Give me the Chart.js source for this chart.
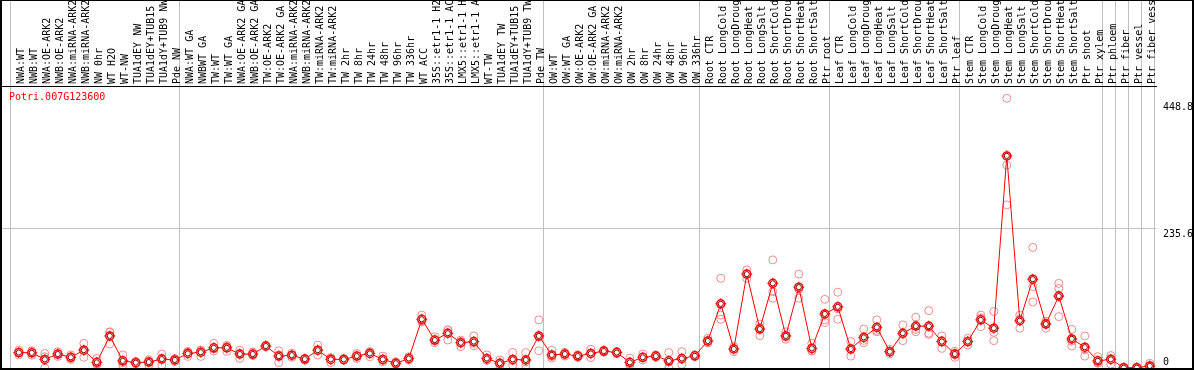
<!DOCTYPE html>
<html>
<head>
<meta charset="utf-8">
<script src="https://cdn.jsdelivr.net/npm/chart.js@4"></script>
<style>
    html, body { margin: 0; padding: 0; background: #fff; }
    #frame {
        position: relative; width: 1194px; height: 370px; box-sizing: border-box;
        border-style: solid; border-color: #000; border-width: 1px 2px 2px 2px;
    }
    #chart { display: block; }
    #gene {
        position: absolute; left: 7px; top: 91px; color: #f00;
        font: 10px "DejaVu Sans Mono", monospace; line-height: 10px;
    }
</style>
</head>
<body>
<div id="frame">
    <canvas id="chart" width="1190" height="367"></canvas>
    <div id="gene">Potri.007G123600</div>
</div>
<script>
const categories = [
    'NWA:WT', 'NWB:WT', 'NWA:OE-ARK2', 'NWB:OE-ARK2', 'NWA:miRNA-ARK2', 'NWB:miRNA-ARK2', 'NW 0hr',
    'WT H2O', 'WT-NW', 'TUA1dEY NW', 'TUA1dEY+TUB15 NW', 'TUA1dY+TUB9 NW', 'Pde NW',
    'NWA:WT GA', 'NWBWT GA', 'TW:WT', 'TW:WT GA', 'NWA:OE-ARK2 GA', 'NWB:OE-ARK2 GA', 'TW:OE-ARK2',
    'TW:OE-ARK2 GA', 'NWA:miRNA-ARK2', 'NWB:miRNA-ARK2', 'TW:miRNA-ARK2', 'TW:miRNA-ARK2',
    'TW 2hr', 'TW 8hr', 'TW 24hr', 'TW 48hr', 'TW 96hr', 'TW 336hr', 'WT ACC',
    '35S::etr1-1 H2O', '35S::etr1-1 ACC', 'LMX5::etr1-1 H2O', 'LMX5::etr1-1 ACC', 'WT-TW',
    'TUA1dEY TW', 'TUA1dEY+TUB15 TW', 'TUA1dY+TUB9 TW', 'Pde TW',
    'OW:WT', 'OW:WT GA', 'OW:OE-ARK2', 'OW:OE-ARK2 GA', 'OW:miRNA-ARK2', 'OW:miRNA-ARK2',
    'OW 2hr', 'OW 8hr', 'OW 24hr', 'OW 48hr', 'OW 96hr', 'OW 336hr',
    'Root CTR', 'Root LongCold', 'Root LongDrought', 'Root LongHeat', 'Root LongSalt',
    'Root ShortCold', 'Root ShortDrought', 'Root ShortHeat', 'Root ShortSalt', 'Ptr root',
    'Leaf CTR', 'Leaf LongCold', 'Leaf LongDrought', 'Leaf LongHeat', 'Leaf LongSalt',
    'Leaf ShortCold', 'Leaf ShortDrought', 'Leaf ShortHeat', 'Leaf ShortSalt', 'Ptr leaf',
    'Stem CTR', 'Stem LongCold', 'Stem LongDrought', 'Stem LongHeat', 'Stem LongSalt',
    'Stem ShortCold', 'Stem ShortDrought', 'Stem ShortHeat', 'Stem ShortSalt', 'Ptr shoot', 'Ptr xylem',
    'Ptr phloem', 'Ptr fiber', 'Ptr vessel', 'Ptr fiber vessel'
];
// samples per group, a grey rule separates groups
const groupSizes = [13, 28, 12, 10, 10, 11, 1, 1, 1, 1];

const meanValues = [
    26, 25.5, 14.5, 23.5, 18, 30, 9.5, 54, 12, 9, 10, 15, 13.5,
    24.5, 26.5, 34, 34, 23.5, 23.5, 37, 20, 21.5, 15, 30, 14.5, 14.5, 20, 24.5, 14.5, 8, 16,
    82, 47, 58.5, 42.5, 44.5, 16, 8, 14.5, 13.5, 54,
    22, 23.5, 20, 24.5, 28.5, 26, 9.5, 18, 20, 12, 16, 20.5,
    45.5, 108, 32, 158, 65.5, 142.5, 54, 136, 33, 91,
    103, 32, 51.5, 68.5, 27.5, 58.5, 70.5, 70.5, 44.5, 23.5,
    44.5, 81, 67, 357, 79.5, 149.5, 74, 121, 49, 35, 12,
    14.5, 0.5, 0.5, 3.5
];
const rep1 = [
    30, 29, 24.5, 27.5, 22, 41.5, 16, 61, 22, 11, 14, 23.5, 16,
    28, 30, 41.5, 38, 30, 27, 38, 29, 25, 16, 38.5, 17.5, 16, 24.5, 27.5, 20, 10.5, 19,
    89, 52.5, 64, 47, 54, 22, 13.5, 26, 26, 81,
    30, 26.5, 22, 31.5, 30, 28, 16.5, 23.5, 22, 26, 27.5, 22,
    50, 151, 36, 165, 74, 182, 61, 158, 41.5, 115.5,
    127.5, 44.5, 65.5, 81, 31.5, 72.5, 85.5, 96.5, 54, 28,
    50, 89, 95, 454, 89, 203, 79, 142.5, 65, 54, 19,
    21, 1, 1, 8
];
const rep2 = [
    22, 21.5, 0, 19.5, 14.5, 18, 6.5, 40.5, 5, 7, 5, 5, 11,
    19.5, 19.5, 28.5, 28, 16, 21, 36, 9, 18, 13.5, 22, 9, 13, 16, 19, 10.5, 6.5, 13.5,
    79.5, 42.5, 47, 36, 37.5, 13, 3.5, 5, 4, 29,
    16.5, 20, 18, 17.5, 27, 24, 5, 13.5, 18, 0, 6, 19,
    42, 89, 27.5, 151, 54.5, 128.5, 48.5, 117.5, 29, 81,
    82, 20, 42.5, 61, 24, 46, 61, 58.5, 33, 18,
    38.5, 69.5, 46, 341.5, 67, 111, 67, 86.5, 37, 20, 8,
    6.5, 0, 0, 1
];
const rep3 = [
    26, 26, 19, 23.5, 18, 31, 6, 60, 9, 9, 11, 16.5, 13.5,
    26.5, 30, 32, 36, 24.5, 22.5, 37, 22, 21.5, 15.5, 29.5, 17, 14.5, 19.5, 27, 13, 7, 16,
    77.5, 46, 64, 44.5, 41.5, 13, 7, 12.5, 10, 52,
    19.5, 24, 20, 24.5, 28.5, 26, 7, 17, 20, 10, 14.5, 20.5,
    44.5, 82, 32.5, 158, 68, 117.5, 52.5, 132.5, 28.5, 76.5,
    99.5, 31.5, 46.5, 63.5, 27, 57, 65, 56.5, 46.5, 24.5,
    45, 84.5, 60, 274.5, 82.5, 137, 76, 134, 45, 31, 9,
    16, 0.5, 0.5, 1.5
];
const yTicks = [0, 235.6, 448.8];
const yMax = 474.6;

const X_MIN = -1.292;
const X_MAX = 87.477;
const monoFont = { family: '"DejaVu Sans Mono", monospace', size: 10 };

// group separators sit a little left of each group's first sample
const groupBounds = [-0.6];
groupSizes.forEach(n => groupBounds.push(groupBounds[groupBounds.length - 1] + n));

const toPoints = arr => arr.map((v, i) => ({ x: i, y: v }));

const ctx = document.getElementById('chart').getContext('2d');
new Chart(ctx, {
    type: 'line',
    data: {
        datasets: [
            {
                label: 'mean',
                data: toPoints(meanValues),
                borderColor: '#ff0000',
                borderWidth: 1,
                pointStyle: 'circle',
                pointRadius: 4,
                pointBorderWidth: 1.5,
                pointBorderColor: '#ff0000',
                pointBackgroundColor: '#ffffff',
                tension: 0,
                clip: false,
                order: 1
            },
            {
                label: 'meanInner',
                data: toPoints(meanValues),
                showLine: false,
                pointStyle: 'circle',
                pointRadius: 2.6,
                pointBorderWidth: 1,
                pointBorderColor: '#800000',
                pointBackgroundColor: 'rgba(0,0,0,0)',
                clip: false,
                order: 0
            },
            {
                label: 'meanCross',
                data: toPoints(meanValues),
                showLine: false,
                pointStyle: 'cross',
                pointRadius: 5.5,
                pointBorderWidth: 1,
                pointBorderColor: '#ff0000',
                clip: false,
                order: 2
            },
            ...[rep1, rep2, rep3].map((r, k) => ({
                label: 'rep' + (k + 1),
                data: toPoints(r),
                showLine: false,
                pointStyle: 'circle',
                pointRadius: 4,
                pointBorderWidth: 1,
                pointBorderColor: '#ee8c8c',
                pointBackgroundColor: 'rgba(0,0,0,0)',
                clip: false,
                order: 3
            }))
        ]
    },
    options: {
        responsive: false,
        animation: false,
        devicePixelRatio: 1,
        events: [],
        layout: { padding: 0, autoPadding: false },
        plugins: { legend: { display: false }, tooltip: { enabled: false } },
        scales: {
            x: {
                type: 'linear',
                position: 'top',
                weight: 0,
                min: X_MIN,
                max: X_MAX,
                afterBuildTicks: s => { s.ticks = groupBounds.map(v => ({ value: v })); },
                afterFit: s => { s.height = 0; s.paddingLeft = 0; s.paddingRight = 0; },
                ticks: { display: false },
                grid: { color: '#c0c0c0', lineWidth: 1, drawTicks: true, tickLength: 85 },
                border: { display: false }
            },
            xTop: {
                type: 'linear',
                position: 'top',
                weight: 1,
                min: X_MIN,
                max: X_MAX,
                afterBuildTicks: s => { s.ticks = categories.map((c, i) => ({ value: i })); },
                afterFit: s => { s.height = 85; s.paddingLeft = 0; s.paddingRight = 0; },
                ticks: {
                    autoSkip: false, minRotation: 90, maxRotation: 90, padding: 2,
                    labelOffset: 15,
                    font: monoFont, color: '#000',
                    callback: (v, i) => categories[i]
                },
                grid: { display: false, drawTicks: false },
                border: { display: true, color: '#000', width: 1 }
            },
            y: {
                position: 'right',
                min: 0,
                max: yMax,
                afterBuildTicks: s => { s.ticks = yTicks.map(v => ({ value: v })); },
                afterFit: s => { s.width = 36; s.paddingTop = 0; s.paddingBottom = 0; },
                ticks: {
                    padding: 7, font: { ...monoFont, lineHeight: 1.2 }, color: '#000',
                    callback: v => v === 0 ? ['0', ''] : ['', String(v)]
                },
                grid: {
                    drawTicks: false,
                    color: c => (c.tick && c.tick.value === 235.6) ? '#c0c0c0' : 'rgba(0,0,0,0)'
                },
                border: { display: false }
            }
        }
    }
});
</script>
</body>
</html>
